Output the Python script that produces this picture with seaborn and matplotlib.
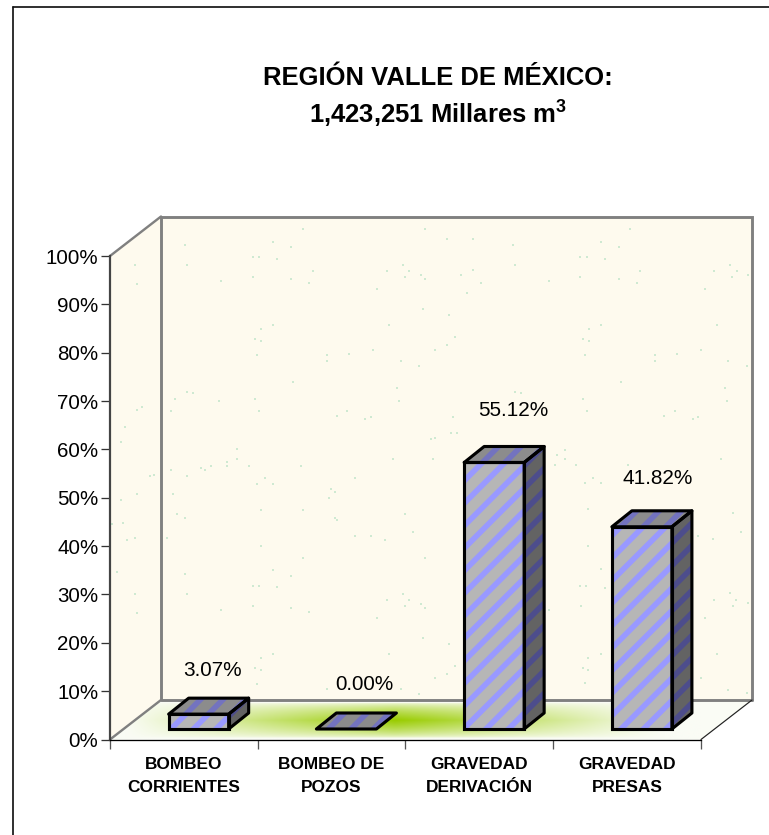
import numpy as np
import pandas as pd
import matplotlib
matplotlib.use("Agg")
import matplotlib.pyplot as plt
from matplotlib.patches import Polygon
import seaborn as sns

categories = ["BOMBEO\nCORRIENTES", "BOMBEO DE\nPOZOS", "GRAVEDAD\nDERIVACIÓN", "GRAVEDAD\nPRESAS"]
values = [3.07, 0.00, 55.12, 41.82]
value_labels = ["3.07%", "0.00%", "55.12%", "41.82%"]
y_ticks = list(range(0, 101, 10))
y_labels = [f"{t}%" for t in y_ticks]
title_lines = ["REGIÓN VALLE DE MÉXICO:", r"1,423,251 Millares m$^{\mathbf{3}}$"]

# label offsets from the bar's front-top centre, in pixels
label_dx = [14, 18, 19, 16]
label_dy = [44, 44, 52, 48]

speckles = [
    ((100, 210), [(609,58),(975,58),(255,106),(519,95),(573,112),(460,142),(476,142),(530,148),(261,166),(104,166),
                  (639,184),(860,184),(909,166),(926,184),(914,202),(964,196),(975,208),(460,202),(573,208),(363,213),
                  (627,220),(111,222),(830,238),(968,298),(867,346),(519,346),(483,357),(465,388),(483,394),(818,419),
                  (471,436),(680,436),(680,453),(748,431),(903,453),(957,467),(579,515),(891,533),(261,545),(279,550),
                  (225,568),(465,568),(357,574),(897,574),(127,592),(111,600),(213,604),(476,604),(742,604),(711,617),
                  (813,622),(796,628),(75,650),(64,695),(411,718)]),
    ((420, 210), [(14,58),(81,88),(158,88),(278,105),(631,58),(543,95),(597,112),(481,142),(500,142),(554,148),
                  (284,166),(931,166),(158,179),(661,184),(883,184),(950,184),(14,208),(122,196),(937,202),(985,196),
                  (481,202),(597,208),(386,213),(183,220),(650,220),(141,250),(854,238),(8,298),(88,316),(890,346),
                  (543,346),(506,357),(104,382),(488,388),(506,394),(81,405),(45,419),(842,419),(495,436),(704,436),
                  (704,453),(770,431),(925,453),(980,467),(603,515),(914,533),(284,545),(303,550),(488,568),(920,574),
                  (500,604),(764,604),(733,617),(100,622),(835,622),(818,628),(92,670),(110,670),(45,683),(32,688)]),
    ((100, 450), [(879,28),(999,28),(411,28),(381,35),(381,47),(447,47),(603,47),(333,47),(303,53),(315,60),
                  (213,60),(261,78),(150,78),(163,75),(765,85),(495,85),(471,102),(519,102),(693,118),(705,125),
                  (219,132),(111,133),(687,145),(64,151),(483,180),(609,180),(915,192),(231,192),(255,204),(705,204),
                  (711,209),(69,219),(36,221),(939,245),(765,257),(813,257),(201,264),(104,264),(81,270),(855,269),
                  (483,288),(975,324),(609,324),(519,360),(255,372),(52,365),(573,379),(459,407),(476,407),(530,412),
                  (104,433),(261,433),(909,433),(926,450),(860,450),(964,462),(459,467),(915,467),(363,480),(573,474),
                  (975,474),(627,487),(111,489),(830,503),(968,564),(519,611),(867,611),(483,624),(465,653),(483,660),
                  (1006,684),(471,702),(680,718),(903,718),(957,732)]),
    ((440, 430), [(375,60),(350,75),(375,88),(345,105),(408,105),(565,105),(458,145),(435,160),(483,160),(843,88),
                  (445,238),(878,250),(775,318),(818,328),(902,305),(445,348),(483,418),(420,467),(438,467),(495,473),
                  (870,490),(822,510),(888,510),(422,527),(328,540),(878,527),(795,563),(925,520),(28,642),(830,672),
                  (483,672),(445,685),(428,713),(445,720),(45,708),(22,732),(435,760),(782,743),(865,780),(920,790)]),
]

DPI = 135                   # hatch tiles scale with dpi: this gives the 22.5 px stripe pitch

def pt(px):
    return px * 72 / DPI

sns.set_theme(style="white")
plt.rcParams["font.family"] = ["Liberation Sans", "DejaVu Sans"]
plt.rcParams["hatch.linewidth"] = pt(5.6)
plt.rcParams["mathtext.fontset"] = "custom"
plt.rcParams["mathtext.bf"] = "Liberation Sans:bold"
plt.rcParams["mathtext.rm"] = "Liberation Sans"

W, H = 770, 835
L, R, B, T = 110.0, 701.0, 739.5, 256.0
UX = (R - L) / 4.0          # pixels per category
UY = (B - T) / 100.0        # pixels per percent
X0 = -0.6                   # bars sit right of the category centres

def X(px):
    return X0 + (np.asarray(px, float) - L) / UX

def Y(py):
    return (B - np.asarray(py, float)) / UY

fig = plt.figure(figsize=(W / DPI, H / DPI), dpi=DPI, facecolor="white")
ax = fig.add_axes([L / W, 1 - B / H, (R - L) / W, (B - T) / H])
ax.patch.set_alpha(0)

GREY = "#808080"
WALL = "#FEFAEE"
wall_dx, wall_dy = 51 / UX, 39.5 / UY
x_a, x_b = X0, X0 + 4
base = 10.5 / UY
depth_x, depth_y = 20 / UX, 16 / UY
bar_w = 60 / UX
OUT = pt(3.1)

# walls
ax.add_patch(Polygon([(x_a + wall_dx, wall_dy), (x_b + wall_dx, wall_dy), (x_b + wall_dx, 100 + wall_dy), (x_a + wall_dx, 100 + wall_dy)],
                     fc=WALL, ec="none", clip_on=False, zorder=0.1))
ax.add_patch(Polygon([(x_a, 0), (x_a + wall_dx, wall_dy), (x_a + wall_dx, 100 + wall_dy), (x_a, 100)],
                     fc=WALL, ec="none", clip_on=False, zorder=0.1))

# speckle texture
sx, sy = [], []
for (ox, oy), pts in speckles:
    for zx, zy in pts:
        sx.append(ox + zx / 3)
        sy.append(oy + zy / 3)
ax.scatter(X(sx), Y(sy), s=pt(2.1) ** 2, marker="s", color="#CFE9D2", linewidths=0, clip_on=False, zorder=0.2)

# floor with its green glow
floor = Polygon([(x_a, 0), (x_b, 0), (x_b + wall_dx, wall_dy), (x_a + wall_dx, wall_dy)],
                transform=ax.transData, fc="#FAFCF5", ec="none", clip_on=False, zorder=0.3)
ax.add_patch(floor)
gx = np.linspace(110, 752, 322)
gy = np.linspace(700, 740, 41)
GX, GY = np.meshgrid(gx, gy)
wx = np.clip(1 - np.abs(GX - 395) / 270, 0, 1) ** 1.0
wy = np.clip(1 - np.abs(GY - 721) / 18, 0, 1) ** 0.6
w = (wx * wy)[..., None]
c0 = np.array(matplotlib.colors.to_rgb("#FAFCF5"))
c1 = np.array(matplotlib.colors.to_rgb("#99CC00"))
img = c0 * (1 - w) + c1 * w
im = ax.imshow(img, extent=[X(110), X(752), Y(740), Y(700)], origin="upper", aspect="auto",
               zorder=0.35, interpolation="bilinear", clip_on=True)
im.set_clip_path(floor)

# wall edges
ax.plot([x_a + wall_dx, x_b + wall_dx, x_b + wall_dx], [100 + wall_dy, 100 + wall_dy, wall_dy],
        color=GREY, lw=pt(2.9), clip_on=False, zorder=0.5, solid_joinstyle="miter")
ax.plot([x_a + wall_dx, x_a + wall_dx, x_b + wall_dx], [100 + wall_dy, wall_dy, wall_dy],
        color=GREY, lw=pt(2.9), clip_on=False, zorder=0.5)
ax.plot([x_a, x_a + wall_dx], [100, 100 + wall_dy], color=GREY, lw=pt(2.4), clip_on=False, zorder=0.5)
ax.plot([x_a, x_a + wall_dx], [0, wall_dy], color=GREY, lw=pt(2.4), clip_on=False, zorder=0.5)
ax.plot([x_b, x_b + wall_dx], [0, wall_dy], color="#222222", lw=pt(1.2), clip_on=False, zorder=0.5)

# front faces
df = pd.DataFrame({"categoria": categories, "valor": values})
sns.barplot(data=df, x="categoria", y="valor", ax=ax, color="#B6B6B6", saturation=1, width=bar_w,
            bottom=base, edgecolor="#9999FF", hatch="//", linewidth=0, zorder=2, clip_on=False)

# side and top faces plus outlines, derived from the values
for i, v in enumerate(values):
    xl, xr = i - bar_w / 2, i + bar_w / 2
    yb, yt = base, base + v
    side = [(xr, yb), (xr + depth_x, yb + depth_y), (xr + depth_x, yt + depth_y), (xr, yt)]
    top = [(xl, yt), (xr, yt), (xr + depth_x, yt + depth_y), (xl + depth_x, yt + depth_y)]
    if v > 0:
        ax.add_patch(Polygon(side, fc="#636363", ec="#4D4D8C", hatch="//", lw=0, zorder=2))
        ax.add_patch(Polygon(side, fc="none", ec="black", lw=OUT, zorder=3, joinstyle="round"))
        ax.add_patch(Polygon([(xl, yb), (xr, yb), (xr, yt), (xl, yt)], fc="none", ec="black", lw=OUT, zorder=3, joinstyle="miter"))
    ax.add_patch(Polygon(top, fc="#8C8C8C", ec="#7373BF", hatch="//", lw=0, zorder=2))
    ax.add_patch(Polygon(top, fc="none", ec="black", lw=OUT, zorder=3, joinstyle="round"))
    ax.annotate(value_labels[i], xy=(i, yt), xytext=(pt(label_dx[i]), pt(label_dy[i])),
                textcoords="offset points", ha="center", va="center", fontsize=pt(20.8), color="black", zorder=4)

# axes
ax.set_xlim(x_a, x_b)
ax.set_ylim(0, 100)
ax.set_xlabel("")
ax.set_ylabel("")
ax.set_yticks(y_ticks)
ax.set_yticklabels(y_labels, fontsize=pt(20.5), color="black")
ax.set_xticks([X0 + k for k in range(5)])
ax.set_xticklabels([])
ax.set_xticks([X0 + k + 0.5 for k in range(4)], minor=True)
ax.set_xticklabels(categories, minor=True, fontsize=pt(17.3), fontweight="bold", color="black", linespacing=1.7)
ax.tick_params(axis="y", which="major", left=True, length=pt(9), width=pt(1.3), color="#333333", pad=pt(2.5))
ax.tick_params(axis="x", which="major", bottom=True, length=pt(9), width=pt(1.3), color="#555555")
ax.tick_params(axis="x", which="minor", bottom=False, length=0, pad=pt(17.5))
for s in ["top", "right"]:
    ax.spines[s].set_visible(False)
ax.spines["left"].set_color("#444444")
ax.spines["left"].set_linewidth(pt(2.2))
ax.spines["bottom"].set_color("black")
ax.spines["bottom"].set_linewidth(pt(1.3))
ax.spines["left"].set_zorder(1)
ax.spines["bottom"].set_zorder(1)

# title
fig.text(438 / W, 1 - 85 / H, title_lines[0], ha="center", va="baseline", fontsize=pt(25.6), fontweight="bold", color="black")
fig.text(438 / W, 1 - 122.5 / H, title_lines[1], ha="center", va="baseline", fontsize=pt(25.6), fontweight="bold", color="black")

# chart-area frame: only its top and left edges fall inside the picture
fig.add_artist(plt.Line2D([13.5 / W, 1], [1 - 6.5 / H, 1 - 6.5 / H], color="#111111", lw=pt(1.7)))
fig.add_artist(plt.Line2D([13.5 / W, 13.5 / W], [1 - 6.5 / H, 0], color="#111111", lw=pt(1.7)))

fig.savefig("out.png", dpi=DPI, facecolor="white")
